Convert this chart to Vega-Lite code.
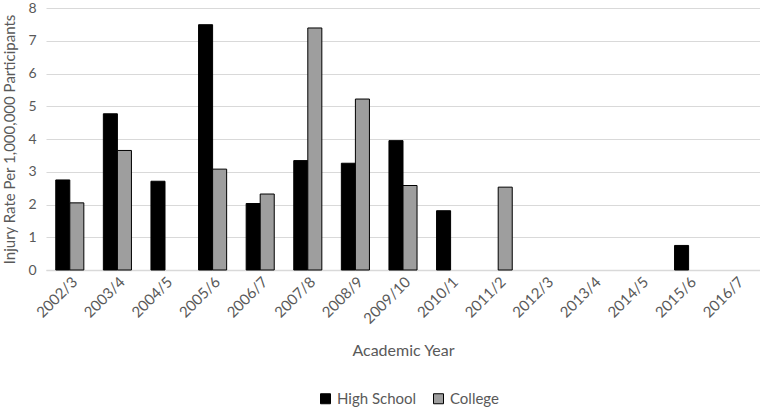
{
  "$schema": "https://vega.github.io/schema/vega-lite/v6.json",
  "width": 714,
  "height": 262,
  "autosize": {"type": "none"},
  "padding": {"left": 46, "top": 8, "right": 0, "bottom": 138},
  "background": "white",
  "config": {
    "view": {"stroke": null},
    "font": "Lato",
    "axis": {"labelColor": "#595959", "titleColor": "#595959", "labelFont": "Lato", "titleFont": "Lato", "titleFontWeight": "normal"}
  },
  "data": {
    "values": [
      {"year": "2002/3", "level": "High School", "rate": 2.75},
      {"year": "2002/3", "level": "College", "rate": 2.05},
      {"year": "2003/4", "level": "High School", "rate": 4.77},
      {"year": "2003/4", "level": "College", "rate": 3.65},
      {"year": "2004/5", "level": "High School", "rate": 2.71},
      {"year": "2005/6", "level": "High School", "rate": 7.49},
      {"year": "2005/6", "level": "College", "rate": 3.08},
      {"year": "2006/7", "level": "High School", "rate": 2.03},
      {"year": "2006/7", "level": "College", "rate": 2.32},
      {"year": "2007/8", "level": "High School", "rate": 3.34},
      {"year": "2007/8", "level": "College", "rate": 7.39},
      {"year": "2008/9", "level": "High School", "rate": 3.26},
      {"year": "2008/9", "level": "College", "rate": 5.22},
      {"year": "2009/10", "level": "High School", "rate": 3.95},
      {"year": "2009/10", "level": "College", "rate": 2.58},
      {"year": "2010/1", "level": "High School", "rate": 1.81},
      {"year": "2011/2", "level": "College", "rate": 2.53},
      {"year": "2015/6", "level": "High School", "rate": 0.75}
    ]
  },
  "mark": {"type": "bar", "stroke": "black", "strokeWidth": 1},
  "encoding": {
    "x": {
      "field": "year",
      "type": "nominal",
      "sort": ["2002/3","2003/4","2004/5","2005/6","2006/7","2007/8","2008/9","2009/10","2010/1","2011/2","2012/3","2013/4","2014/5","2015/6","2016/7"],
      "scale": {"domain": ["2002/3","2003/4","2004/5","2005/6","2006/7","2007/8","2008/9","2009/10","2010/1","2011/2","2012/3","2013/4","2014/5","2015/6","2016/7"], "paddingInner": 0.41, "paddingOuter": 0.205},
      "axis": {
        "title": "Academic Year",
        "titleFontSize": 16,
        "titleY": 72,
        "titleBaseline": "top",
        "labelAngle": -45,
        "labelFontSize": 15,
        "labelPadding": 4,
        "ticks": false,
        "domainColor": "#d9d9d9",
        "domainWidth": 1.5,
        "grid": false
      }
    },
    "xOffset": {"field": "level", "type": "nominal", "sort": ["High School", "College"], "scale": {"domain": ["High School", "College"]}},
    "y": {
      "field": "rate",
      "type": "quantitative",
      "scale": {"domain": [0, 8]},
      "axis": {
        "title": "Injury Rate Per 1,000,000 Participants",
        "titleFontSize": 15,
        "titlePadding": 10,
        "values": [0,1,2,3,4,5,6,7,8],
        "labelFontSize": 14,
        "labelPadding": 10,
        "ticks": false,
        "domain": false,
        "gridColor": "#d9d9d9",
        "gridWidth": 1
      }
    },
    "fill": {
      "field": "level",
      "type": "nominal",
      "sort": ["High School", "College"],
      "scale": {"domain": ["High School", "College"], "range": ["#000000", "#9e9e9e"]},
      "legend": {
        "title": null,
        "orient": "none",
        "direction": "horizontal",
        "legendX": 272,
        "legendY": 383,
        "symbolType": "square",
        "symbolSize": 100,
        "symbolStrokeColor": "black",
        "symbolStrokeWidth": 1,
        "labelFontSize": 15,
        "labelColor": "#595959",
        "labelFont": "Lato",
        "columnPadding": 14,
        "symbolOffset": 0,
        "labelOffset": 4
      }
    }
  }
}
